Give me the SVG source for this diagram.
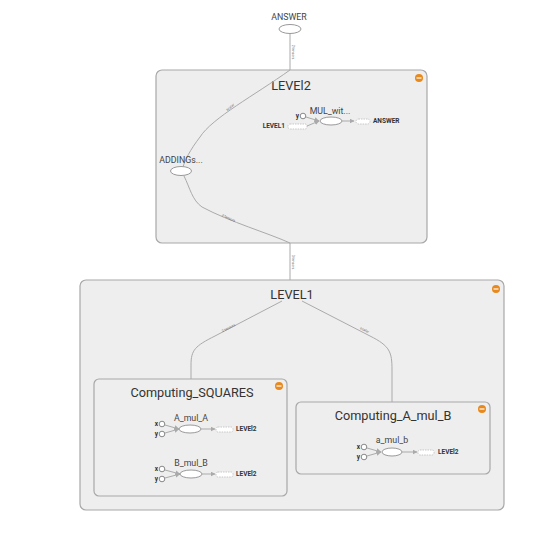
<svg xmlns="http://www.w3.org/2000/svg" width="551" height="548" viewBox="0 0 551 548">
<defs>
<marker id="arr" viewBox="0 0 10 10" refX="9" refY="5" markerWidth="5" markerHeight="5" orient="auto"><path d="M0,0 L10,5 L0,10 z" fill="#aaa"/></marker>
</defs>
<style>
.grp{fill:#eeeeee;stroke:#a8a8a8;stroke-width:1.2}
.title{font-family:Roboto,"Liberation Sans",sans-serif;font-size:12.7px;fill:#333;text-anchor:middle}
.lbl{font-family:Roboto,"Liberation Sans",sans-serif;font-size:8.8px;fill:#444;text-anchor:middle}
.small{font-family:Roboto,"Liberation Sans",sans-serif;font-size:6.5px;font-weight:bold;fill:#333}
.io{font-family:Roboto,"Liberation Sans",sans-serif;font-size:6.5px;font-weight:bold;fill:#333;text-anchor:end}
.op{fill:#fff;stroke:#999;stroke-width:1}
.in{fill:#fff;stroke:#888;stroke-width:1}
.ph{fill:#fff;stroke:#bbb;stroke-width:0.8;stroke-dasharray:1.5,1}
.btn{fill:#e8891d}
.btnl{stroke:#fff;stroke-width:1.2}
.edge{fill:none;stroke:#aaa;stroke-width:1}
.iedge{fill:none;stroke:#aaa;stroke-width:1}
.elbl{font-family:Roboto,"Liberation Sans",sans-serif;font-size:3.5px;fill:#666;text-anchor:middle}
</style>
<rect width="551" height="548" fill="#fff"/>

<g id="LEVEL1">
<rect class="grp" x="80" y="280" width="424" height="230" rx="6"/>
<text class="title" x="292" y="299">LEVEL1</text>
<circle class="btn" cx="496" cy="289" r="4"/><line class="btnl" x1="493.5" y1="289" x2="498.5" y2="289"/>
</g>

<g id="LEVEl2">
<rect class="grp" x="156" y="70" width="271" height="173" rx="6"/>
<text class="title" x="291" y="90">LEVEl2</text>
<circle class="btn" cx="419" cy="78" r="4"/><line class="btnl" x1="416.5" y1="78" x2="421.5" y2="78"/>
</g>

<g id="Computing_SQUARES">
<rect class="grp" x="94" y="379" width="193" height="117" rx="5"/>
<text class="title" x="192" y="397">Computing_SQUARES</text>
<circle class="btn" cx="279" cy="386" r="4"/><line class="btnl" x1="276.5" y1="386" x2="281.5" y2="386"/>
</g>

<g id="Computing_A_mul_B">
<rect class="grp" x="296" y="402" width="194" height="72" rx="5"/>
<text class="title" x="393" y="420">Computing_A_mul_B</text>
<circle class="btn" cx="482" cy="409" r="4"/><line class="btnl" x1="479.5" y1="409" x2="484.5" y2="409"/>
</g>

<g id="connectors">
<path class="edge" d="M290,34 L290,70"/>
<path class="edge" d="M290,70 C255,95 212,118 200,137 C190,150 185,160 183,167"/>
<path class="edge" d="M184,176 C190,188 192,200 202,207 C230,222 268,233 290,243 L290,280"/>
<path class="edge" d="M282,301 L215,336 C195,346 191,350 191,365 L191,379"/>
<path class="edge" d="M302,301 L370,336 C390,346 392,352 392,370 L392,402"/>
<text class="elbl" transform="translate(292,52) rotate(90)">2 tensors</text>
<text class="elbl" transform="translate(231,108) rotate(-40)">scalar</text>
<text class="elbl" transform="translate(228,219) rotate(25)">2 tensors</text>
<text class="elbl" transform="translate(292,262) rotate(90)">3 tensors</text>
<text class="elbl" transform="translate(229,329) rotate(-27)">2 tensors</text>
<text class="elbl" transform="translate(364,331) rotate(27)">scalar</text>
</g>

<g id="MUL_wit">
<text class="lbl" x="330" y="114">MUL_wit...</text>
<text class="io" x="299" y="118">y</text>
<circle class="in" cx="303" cy="116" r="2.8"/>
<text class="io" x="285" y="128">LEVEL1</text>
<rect class="ph" x="288" y="124" width="19" height="5" rx="2"/>
<path class="iedge" d="M306,117 L319,121" marker-end="url(#arr)"/>
<path class="iedge" d="M307,126 L319,121" marker-end="url(#arr)"/>
<ellipse class="op" cx="331" cy="121" rx="11" ry="4"/>
<path class="iedge" d="M342,121 L354,121" marker-end="url(#arr)"/>
<rect class="ph" x="356" y="119" width="14" height="5" rx="2.5"/>
<text class="small" x="373" y="123">ANSWER</text>
</g>

<g id="ANSWER">
<text class="lbl" x="289" y="20">ANSWER</text>
<ellipse class="op" cx="290" cy="29" rx="11" ry="4.5"/>
</g>

<g id="ADDINGs">
<text class="lbl" x="181" y="163">ADDINGs...</text>
<ellipse class="op" cx="181" cy="171" rx="10.5" ry="4.5"/>
</g>

<g id="A_mul_A">
<text class="lbl" x="191" y="421">A_mul_A</text>
<text class="io" x="158" y="426">x</text>
<circle class="in" cx="162" cy="424" r="2.8"/>
<text class="io" x="158" y="436">y</text>
<circle class="in" cx="162" cy="434" r="2.8"/>
<path class="iedge" d="M165,425 L179,429" marker-end="url(#arr)"/>
<path class="iedge" d="M165,433 L179,429" marker-end="url(#arr)"/>
<ellipse class="op" cx="190" cy="429" rx="11" ry="4"/>
<path class="iedge" d="M201,429 L215,429" marker-end="url(#arr)"/>
<rect class="ph" x="216" y="427" width="17" height="5" rx="2"/>
<text class="small" x="236" y="431">LEVEl2</text>
</g>

<g id="B_mul_B">
<text class="lbl" x="191" y="466">B_mul_B</text>
<text class="io" x="158" y="471">x</text>
<circle class="in" cx="162" cy="469" r="2.8"/>
<text class="io" x="158" y="481">y</text>
<circle class="in" cx="162" cy="479" r="2.8"/>
<path class="iedge" d="M165,470 L180,474" marker-end="url(#arr)"/>
<path class="iedge" d="M165,478 L180,474" marker-end="url(#arr)"/>
<ellipse class="op" cx="191" cy="474" rx="11" ry="4"/>
<path class="iedge" d="M202,474 L215,474" marker-end="url(#arr)"/>
<rect class="ph" x="216" y="472" width="17" height="5" rx="2"/>
<text class="small" x="236" y="476">LEVEl2</text>
</g>

<g id="a_mul_b">
<text class="lbl" x="392" y="443">a_mul_b</text>
<text class="io" x="360" y="449">x</text>
<circle class="in" cx="364" cy="447" r="2.8"/>
<text class="io" x="360" y="459">y</text>
<circle class="in" cx="364" cy="457" r="2.8"/>
<path class="iedge" d="M367,448 L381,452" marker-end="url(#arr)"/>
<path class="iedge" d="M367,456 L381,452" marker-end="url(#arr)"/>
<ellipse class="op" cx="392" cy="452" rx="10" ry="4"/>
<path class="iedge" d="M402,452 L417,452" marker-end="url(#arr)"/>
<rect class="ph" x="418" y="450" width="16" height="5" rx="2"/>
<text class="small" x="438" y="454">LEVEl2</text>
</g>
</svg>
